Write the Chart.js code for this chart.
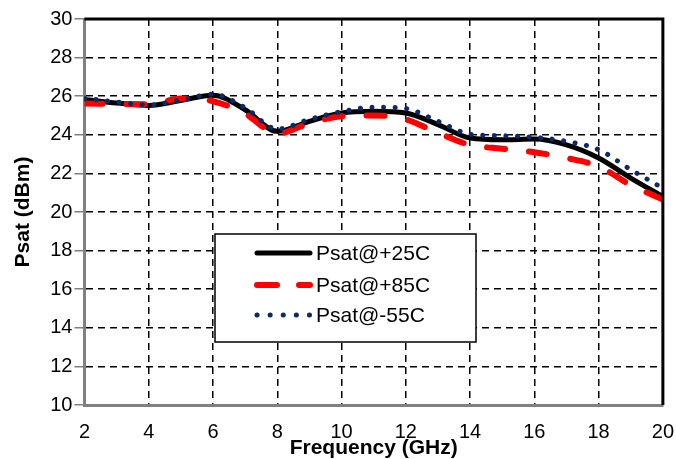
<!DOCTYPE html>
<html>
<head>
<meta charset="utf-8">
<script src="https://cdn.jsdelivr.net/npm/chart.js@4"></script>
<style>
  html, body { margin: 0; padding: 0; background: #fff; }
  #wrap { width: 676px; height: 459px; }
</style>
</head>
<body>
<div id="wrap"><canvas id="psatChart"></canvas></div>
<script>
    // Psat vs frequency
    const freqGHz = [2, 3, 4, 5, 6, 7, 8, 9, 10, 11, 12, 13, 14, 15, 16, 17, 18, 19, 20];
    const psat25 = [25.83, 25.65, 25.52, 25.78, 26.05, 25.3, 24.18, 24.7, 25.13, 25.22, 25.13, 24.53, 23.83, 23.74, 23.78, 23.48, 22.8, 21.76, 20.8];
    const psat85 = [25.62, 25.6, 25.58, 25.88, 25.74, 25.1, 24.06, 24.6, 24.96, 25.0, 24.8, 24.1, 23.48, 23.28, 23.1, 22.8, 22.36, 21.4, 20.65];
    const psatM55 = [25.9, 25.7, 25.55, 25.8, 26.1, 25.4, 24.3, 24.8, 25.2, 25.43, 25.36, 24.7, 24.03, 23.95, 23.87, 23.66, 23.23, 22.2, 21.23];
    const seriesLabels = ['Psat@+25C', 'Psat@+85C', 'Psat@-55C'];
    const xTicks = [2, 4, 6, 8, 10, 12, 14, 16, 18, 20];
    const yTicks = [10, 12, 14, 16, 18, 20, 22, 24, 26, 28, 30];

    const font = 'Liberation Sans, Arial, sans-serif';

    const styles = [
        { color: '#000000', width: 5, dash: [], legendDash: [], order: 3 },
        { color: '#ff0000', width: 6, dash: [18, 24], legendDash: [20, 22], order: 2 },
        { color: '#0b2a6b', width: 5, dash: [0.1, 11.5], legendDash: [0.1, 13], order: 1 }
    ];

    const series = [psat25, psat85, psatM55];
    const datasets = series.map((vals, i) => ({
        label: seriesLabels[i],
        data: vals.map((v, k) => ({ x: freqGHz[k], y: v })),
        borderColor: styles[i].color,
        borderWidth: styles[i].width,
        borderDash: styles[i].dash,
        borderCapStyle: 'round',
        pointRadius: 0,
        tension: 0.4,
        cubicInterpolationMode: 'monotone',
        fill: false,
        order: styles[i].order
    }));

    // frame (top/right black) and in-plot legend box
    const framePlugin = {
        id: 'frame',
        afterDatasetsDraw(chart) {
            const ctx = chart.ctx;
            const a = chart.chartArea;
            ctx.save();
            ctx.strokeStyle = '#000';
            ctx.lineWidth = 3;
            ctx.beginPath();
            ctx.moveTo(a.left, a.top);
            ctx.lineTo(a.right, a.top);
            ctx.lineTo(a.right, a.bottom);
            ctx.stroke();

            // legend
            const bx = 215, by = 234, bw = 261, bh = 108;
            ctx.fillStyle = '#fff';
            ctx.fillRect(bx, by, bw, bh);
            ctx.lineWidth = 1.5;
            ctx.strokeStyle = '#000';
            ctx.strokeRect(bx, by, bw, bh);
            const rows = [253, 285, 315];
            ctx.font = '21px ' + font;
            ctx.textBaseline = 'middle';
            rows.forEach((ry, i) => {
                const s = styles[i];
                ctx.strokeStyle = s.color;
                ctx.lineWidth = s.width;
                ctx.lineCap = 'round';
                ctx.setLineDash(s.legendDash);
                ctx.beginPath();
                ctx.moveTo(257, ry);
                ctx.lineTo(310, ry);
                ctx.stroke();
                ctx.setLineDash([]);
                ctx.fillStyle = '#000';
                ctx.fillText(seriesLabels[i], 316, ry + 1);
            });
            ctx.restore();
        }
    };

    const ctx = document.getElementById('psatChart').getContext('2d');
    new Chart(ctx, {
        type: 'line',
        data: { datasets: datasets },
        options: {
            responsive: true,
            maintainAspectRatio: false,
            animation: false,
            layout: { padding: { left: 11, right: 2, top: 19, bottom: 0 } },
            plugins: {
                legend: { display: false },
                tooltip: { enabled: false }
            },
            scales: {
                x: {
                    type: 'linear',
                    min: 2,
                    max: 20,
                    afterBuildTicks: axis => { axis.ticks = xTicks.map(v => ({ value: v })); },
                    ticks: { color: '#000', font: { family: font, size: 20 }, padding: 2, maxRotation: 0 },
                    grid: { color: '#000', lineWidth: 1.5, tickColor: 'rgba(0,0,0,0)', tickLength: 13 },
                    border: { color: '#808080', width: 3, dash: [7, 5] },
                    title: {
                        display: true,
                        text: 'Frequency (GHz)',
                        color: '#000',
                        font: { family: font, size: 21, weight: 'bold', lineHeight: 1 },
                        padding: { top: -8, bottom: 0 }
                    }
                },
                y: {
                    min: 10,
                    max: 30,
                    afterBuildTicks: axis => { axis.ticks = yTicks.map(v => ({ value: v })); },
                    ticks: { color: '#000', font: { family: font, size: 20 }, padding: 2 },
                    grid: { color: '#000', lineWidth: 1.5, tickColor: '#808080', tickLength: 10 },
                    border: { color: '#808080', width: 3, dash: [7, 5] },
                    title: {
                        display: true,
                        text: 'Psat (dBm)',
                        color: '#000',
                        font: { family: font, size: 21, weight: 'bold' },
                        padding: { top: 0, bottom: 12 }
                    }
                }
            }
        },
        plugins: [framePlugin]
    });
</script>
</body>
</html>
